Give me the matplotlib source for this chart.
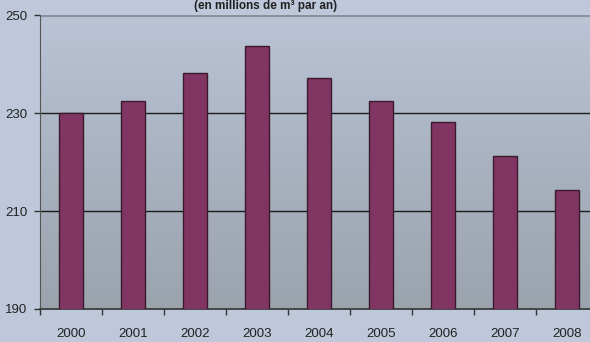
import numpy as np
import matplotlib.pyplot as plt
from matplotlib.colors import LinearSegmentedColormap

years = ['2000', '2001', '2002', '2003', '2004', '2005', '2006', '2007', '2008']
values = [230.0, 232.4, 238.2, 243.6, 237.1, 232.4, 228.2, 221.2, 214.2]
yticks = [190, 210, 230, 250]

plt.rcParams['font.family'] = ['Liberation Sans', 'DejaVu Sans']

fig = plt.figure(figsize=(5.9, 3.42), dpi=100, facecolor='#bec8da')
ax = fig.add_axes([0.068, 0.0965, 0.946, 0.8595])

# gradient background of the plot area (light at top, grey at bottom)
cmap = LinearSegmentedColormap.from_list('bg', ['#bac4d6', '#a9b2c0', '#9ba3ad'])
grad = np.linspace(0, 1, 256).reshape(-1, 1)
ax.imshow(grad, cmap=cmap, aspect='auto', origin='upper',
          extent=[-0.5, 8.5, 190, 250], zorder=0)

x = np.arange(len(years))
ax.bar(x, values, width=0.39, color='#803563', edgecolor='#3b1a2b', linewidth=1.0, zorder=3)

for v in [210, 230]:
    ax.axhline(v, color='#1c1c1c', linewidth=1.0, zorder=2)
ax.axhline(250, color='#8a919c', linewidth=2.2, zorder=2)

ax.set_xlim(-0.5, 8.5)
ax.set_ylim(190, 250)
ax.set_yticks(yticks)
ax.set_xticks(x)
ax.set_xticklabels(years, fontsize=9.5, color='#222222')
ax.set_xticks(np.arange(-0.5, 9, 1), minor=True)
ax.tick_params(axis='x', which='major', length=0, pad=14)
ax.tick_params(axis='x', which='minor', length=4, width=1, color='#333333')
ax.tick_params(axis='y', length=4, width=1, color='#333333', labelsize=9.5, labelcolor='#222222', pad=5)

for s in ['top', 'right']:
    ax.spines[s].set_visible(False)
ax.spines['left'].set_color('#555555')
ax.spines['bottom'].set_color('#333333')
ax.spines['bottom'].set_linewidth(1.2)

fig.text(0.45, 0.999, '(en millions de m\u00b3 par an)', ha='center', va='top',
         fontsize=8.5, fontweight='bold', color='#222222')

fig.savefig('out.png', dpi=100, facecolor=fig.get_facecolor())
